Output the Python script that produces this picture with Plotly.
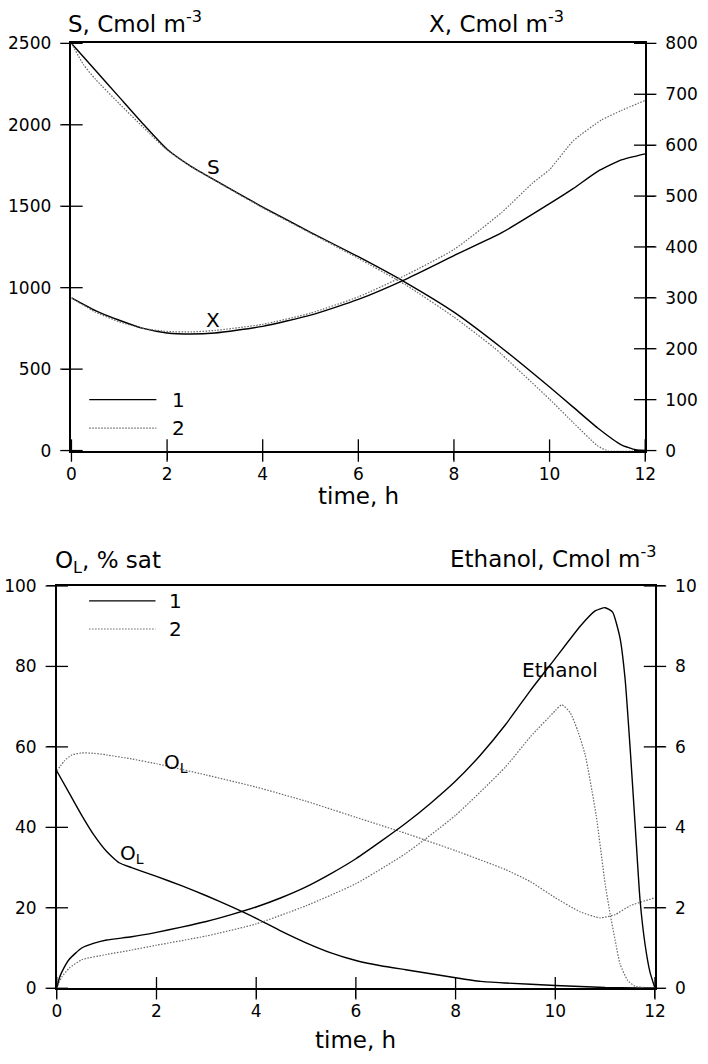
import plotly.graph_objects as go

# ---------------- data: top panel ----------------
t_S1 = [0, 0.5, 1, 1.5, 2, 2.5, 3, 4, 5, 6, 7, 8, 9, 10, 10.5, 11, 11.5, 11.8, 12]
S1 = [2500, 2335, 2170, 2005, 1850, 1745, 1660, 1495, 1340, 1190, 1030, 850, 630, 390, 265, 140, 35, 5, 0]
t_S2 = [0, 0.25, 0.5, 1, 1.5, 2, 2.5, 3, 4, 5, 6, 7, 8, 8.83, 9, 10, 10.5, 11, 11.2, 12]
S2 = [2500, 2370, 2280, 2130, 1985, 1845, 1745, 1658, 1490, 1335, 1180, 1015, 820, 634, 590, 315, 170, 30, 0, 0]

t_X1 = [0, 0.5, 1, 1.5, 2, 2.5, 3, 4, 5, 6, 7, 8, 9, 10, 10.5, 11, 11.5, 12]
X1 = [300, 275, 256, 240, 231, 229, 231, 244, 266, 297, 337, 383, 428, 485, 515, 548, 571, 583]
t_X2 = [0, 0.5, 1, 1.5, 2, 2.5, 3, 4, 5, 6, 7, 8, 9, 9.65, 10, 10.5, 11.08, 11.5, 12]
X2 = [300, 272, 253, 240, 234, 233, 236, 248, 270, 302, 345, 395, 468, 526, 552, 609, 649, 668, 688]

# ---------------- data: bottom panel ----------------
t_O1 = [0, 0.25, 0.5, 0.75, 1, 1.25, 1.5, 2, 2.5, 3, 3.5, 4, 4.5, 5, 5.5, 6, 6.5, 7, 7.5, 8, 8.5, 9, 10, 11, 12]
O1 = [54, 48.5, 43, 38, 34, 31.2, 30, 27.8, 25.5, 23, 20.3, 17.4, 14.2, 11.3, 8.8, 6.9, 5.6, 4.6, 3.6, 2.6, 1.7, 1.3, 0.7, 0.2, 0]
t_O2 = [0, 0.15, 0.3, 0.5, 0.75, 1, 1.5, 2, 3, 4, 5, 6, 7, 8, 9, 9.5, 10, 10.5, 10.9, 11.2, 11.5, 12]
O2 = [54, 56.5, 58, 58.5, 58.4, 58, 57, 55.8, 53, 50, 46.5, 42.5, 38.5, 34.2, 29.5, 26.5, 22.5, 19, 17.5, 18.3, 20.5, 22.5]

t_E1 = [0, 0.05, 0.1, 0.25, 0.5, 0.75, 1, 1.5, 2, 2.5, 3, 3.5, 4, 4.5, 5, 5.5, 6, 6.5, 7, 7.5, 8, 8.5, 9, 9.5,
        10, 10.5, 10.8, 11, 11.15, 11.3, 11.4, 11.5, 11.6, 11.7, 11.8, 11.9, 12]
E1 = [0, 0.25, 0.4, 0.72, 1.0, 1.12, 1.2, 1.28, 1.39, 1.52, 1.66, 1.83, 2.02, 2.25, 2.52, 2.85, 3.22, 3.65, 4.1,
      4.6, 5.15, 5.8, 6.55, 7.4, 8.2, 9.0, 9.38, 9.46, 9.35, 8.7, 7.7, 6.0, 4.1, 2.2, 1.1, 0.4, 0]
t_E2 = [0, 0.05, 0.1, 0.25, 0.5, 1, 1.5, 2, 3, 4, 5, 6, 7, 8, 9, 9.5, 10, 10.13, 10.3, 10.45, 10.6, 10.82, 11,
        11.1, 11.2, 11.3, 11.45, 11.6, 12]
E2 = [0, 0.15, 0.28, 0.5, 0.71, 0.84, 0.95, 1.07, 1.3, 1.6, 2.05, 2.6, 3.35, 4.3, 5.5, 6.25, 6.9, 7.05, 6.85,
      6.4, 5.8, 4.3, 2.6, 1.85, 1.2, 0.6, 0.2, 0.05, 0]

x_ticks = [0, 2, 4, 6, 8, 10, 12]
S_ticks = [0, 500, 1000, 1500, 2000, 2500]
X_ticks = [0, 100, 200, 300, 400, 500, 600, 700, 800]
O_ticks = [0, 20, 40, 60, 80, 100]
E_ticks = [0, 2, 4, 6, 8, 10]

FONT = "DejaVu Sans"
W, H = 708, 1064
TOP_X = [68 / W, 655 / W]
TOP_Y = [1 - 449 / H, 1 - 34 / H]
BOT_X = [53 / W, 665 / W]
BOT_Y = [1 - 997 / H, 1 - 587 / H]

solid = dict(color="black", width=1.4)
dotted = dict(color="#666666", width=1.2, dash="1.5px,1.5px")

fig = go.Figure()
sp = dict(shape="spline", smoothing=0.5)

fig.add_trace(go.Scatter(x=t_S1, y=S1, xaxis="x", yaxis="y", mode="lines", line=dict(**solid, **sp)))
fig.add_trace(go.Scatter(x=t_S2, y=S2, xaxis="x", yaxis="y", mode="lines", line=dict(**dotted, **sp)))
fig.add_trace(go.Scatter(x=t_X1, y=X1, xaxis="x", yaxis="y2", mode="lines", line=dict(**solid, **sp)))
fig.add_trace(go.Scatter(x=t_X2, y=X2, xaxis="x", yaxis="y2", mode="lines", line=dict(**dotted, **sp)))

fig.add_trace(go.Scatter(x=t_O1, y=O1, xaxis="x2", yaxis="y3", mode="lines", line=dict(**solid, **sp)))
fig.add_trace(go.Scatter(x=t_O2, y=O2, xaxis="x2", yaxis="y3", mode="lines", line=dict(**dotted, **sp)))
fig.add_trace(go.Scatter(x=t_E1, y=E1, xaxis="x2", yaxis="y4", mode="lines", line=dict(**solid, **sp)))
fig.add_trace(go.Scatter(x=t_E2, y=E2, xaxis="x2", yaxis="y4", mode="lines", line=dict(**dotted, **sp)))

# crossing tick marks: line markers centred on the axis lines at the tick values
TL = 8
tick_marker = dict(size=2 * TL, color="black", line=dict(color="black", width=1.3))
for xa, ya, vals in [("x", "y", x_ticks), ("x2", "y3", x_ticks)]:
    fig.add_trace(go.Scatter(x=vals, y=[0] * len(vals), xaxis=xa, yaxis=ya, mode="markers",
                             marker=dict(symbol="line-ns-open", **tick_marker), cliponaxis=False,
                             hoverinfo="skip"))
for xa, ya, vals, xpos in [("x", "y", S_ticks, 0), ("x", "y2", X_ticks, 12),
                           ("x2", "y3", O_ticks, 0), ("x2", "y4", E_ticks, 12)]:
    fig.add_trace(go.Scatter(x=[xpos] * len(vals), y=vals, xaxis=xa, yaxis=ya, mode="markers",
                             marker=dict(symbol="line-ew-open", **tick_marker), cliponaxis=False,
                             hoverinfo="skip"))

tickfont = dict(family=FONT, size=17, color="black")


def xax(domain, anchor):
    return dict(domain=domain, anchor=anchor, range=[0, 12], autorange=False, tickvals=x_ticks,
                ticks="outside", ticklen=TL, tickwidth=1.3, tickcolor="black",
                showline=True, linecolor="black", linewidth=1.5, showgrid=False, zeroline=False,
                mirror=True, tickfont=tickfont, ticklabelstandoff=-1, fixedrange=True)


def yax(rng, vals, anchor, side, domain=None, overlay=None):
    d = dict(range=rng, autorange=False, tickvals=vals, anchor=anchor, side=side,
             ticks="outside", ticklen=TL, tickwidth=1.3, tickcolor="black",
             showline=True, linecolor="black", linewidth=1.5, showgrid=False, zeroline=False,
             tickfont=tickfont, ticklabelstandoff=7, fixedrange=True)
    if domain:
        d["domain"] = domain
    if overlay:
        d["overlaying"] = overlay
    return d


fig.update_layout(
    width=W, height=H, margin=dict(l=0, r=0, t=0, b=0),
    paper_bgcolor="white", plot_bgcolor="white", showlegend=False,
    xaxis=xax(TOP_X, "y"),
    yaxis=yax([0, 2500], S_ticks, "x", "left", domain=TOP_Y),
    yaxis2=yax([0, 800], X_ticks, "x", "right", overlay="y"),
    xaxis2=xax(BOT_X, "y3"),
    yaxis3=yax([0, 100], O_ticks, "x2", "left", domain=BOT_Y),
    yaxis4=yax([0, 10], E_ticks, "x2", "right", overlay="y3"),
)

tf = dict(family=FONT, size=23, color="black")
ann = []
# axis titles
ann.append(dict(xref="paper", yref="paper", x=62 / W, y=1 - 12 / H, text="S, Cmol m<sup>-3</sup>",
                xanchor="left", yanchor="middle", showarrow=False, font=tf))
ann.append(dict(xref="paper", yref="paper", x=432 / W, y=1 - 12 / H, text="X, Cmol m<sup>-3</sup>",
                xanchor="left", yanchor="middle", showarrow=False, font=tf))
ann.append(dict(xref="paper", yref="paper", x=(68 + 655) / 2 / W, y=1 - 495 / H, text="time, h",
                xanchor="center", yanchor="middle", showarrow=False, font=tf))
ann.append(dict(xref="paper", yref="paper", x=49 / W, y=1 - 563 / H, text="O<sub>L</sub>, % sat",
                xanchor="left", yanchor="middle", showarrow=False, font=tf))
ann.append(dict(xref="paper", yref="paper", x=669 / W, y=1 - 557 / H, text="Ethanol, Cmol m<sup>-3</sup>",
                xanchor="right", yanchor="middle", showarrow=False, font=tf))
ann.append(dict(xref="paper", yref="paper", x=(53 + 665) / 2 / W, y=1 - 1050 / H, text="time, h",
                xanchor="center", yanchor="middle", showarrow=False, font=tf))
# curve labels
lf = dict(family=FONT, size=20, color="black")
ann.append(dict(xref="x", yref="y", x=2.97, y=1740, text="S", showarrow=False, font=lf))
ann.append(dict(xref="x", yref="y2", x=2.97, y=256, text="X", showarrow=False, font=lf))
ann.append(dict(xref="x2", yref="y3", x=2.4, y=56, text="O<sub>L</sub>", showarrow=False, font=lf))
ann.append(dict(xref="x2", yref="y3", x=1.5, y=33.4, text="O<sub>L</sub>", showarrow=False, font=lf))
ann.append(dict(xref="x2", yref="y3", x=10.1, y=79, text="Ethanol", showarrow=False, font=lf))

shapes = []
# legends (drawn in axis-domain coordinates)
for xr, yr, ys, x0, x1, xl in [("x domain", "y domain", (0.125, 0.055), 0.031, 0.148, 0.186),
                               ("x2 domain", "y3 domain", (0.963, 0.893), 0.054, 0.165, 0.199)]:
    for i, (yy, st) in enumerate(zip(ys, [solid, dotted])):
        shapes.append(dict(type="line", xref=xr, yref=yr, x0=x0, x1=x1, y0=yy, y1=yy, line=st))
        ann.append(dict(xref=xr, yref=yr, x=xl, y=yy, text=str(i + 1), showarrow=False, font=lf,
                        xanchor="center", yanchor="middle"))

fig.update_layout(annotations=ann, shapes=shapes)
fig.write_html("out.html")
